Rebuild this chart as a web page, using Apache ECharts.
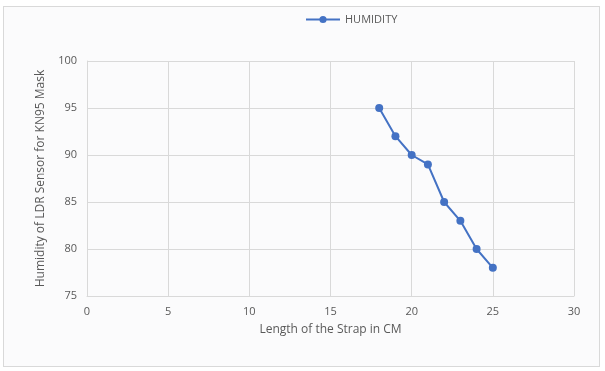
<!DOCTYPE html>
<html>
<head>
<meta charset="utf-8">
<script src="https://cdn.jsdelivr.net/npm/echarts@6/dist/echarts.min.js"></script>
<style>
  html, body { margin: 0; padding: 0; background: #ffffff; }
  #frame { position: absolute; left: 3px; top: 6px; width: 597px; height: 361px;
           border: 1px solid #d9d9d9; background: #fbfbfc; box-sizing: border-box; }
  #chart { position: absolute; left: 0; top: 0; width: 605px; height: 371px; }
</style>
</head>
<body>
<div id="frame"></div>
<div id="chart"></div>
<script>
// Strap length (cm) against measured humidity
const strapLength = [18, 19, 20, 21, 22, 23, 24, 25];
const humidity = [95, 92, 90, 89, 85, 83, 80, 78];
const seriesName = 'HUMIDITY';
const xTitle = 'Length of the Strap in CM';
const yTitle = 'Humidity of LDR Sensor for KN95 Mask';

const chart = echarts.init(document.getElementById('chart'), null, { renderer: 'canvas' });
const font = 'Open Sans, Noto Sans, sans-serif';
const textGray = '#595959';
const gridGray = '#d9d9d9';

chart.setOption({
  backgroundColor: 'transparent',
  animation: false,
  textStyle: { fontFamily: font },
  legend: {
    top: 9, left: 300,
    itemWidth: 34, itemHeight: 9, itemGap: 4,
    textStyle: { color: textGray, fontSize: 11, fontFamily: font },
    data: [seriesName]
  },
  grid: { left: 87, right: 31, top: 61, bottom: 75 },
  xAxis: {
    type: 'value', min: 0, max: 30, interval: 5,
    name: xTitle, nameLocation: 'middle', nameGap: 28,
    nameTextStyle: { color: textGray, fontSize: 12, fontFamily: font },
    axisLine: { lineStyle: { color: gridGray } },
    axisTick: { show: false },
    axisLabel: { color: textGray, fontSize: 11, margin: 10 },
    splitLine: { show: true, lineStyle: { color: gridGray } }
  },
  yAxis: {
    type: 'value', min: 75, max: 100, interval: 5,
    name: yTitle, nameLocation: 'middle', nameGap: 40,
    nameTextStyle: { color: textGray, fontSize: 12, fontFamily: font },
    axisLine: { show: true, lineStyle: { color: gridGray } },
    axisTick: { show: false },
    axisLabel: { color: textGray, fontSize: 11, margin: 10 },
    splitLine: { show: true, lineStyle: { color: gridGray } }
  },
  series: [{
    name: seriesName,
    type: 'line',
    data: strapLength.map((x, i) => [x, humidity[i]]),
    symbol: 'circle', symbolSize: 8,
    lineStyle: { color: '#4472c4', width: 2 },
    itemStyle: { color: '#4472c4' }
  }]
});
</script>
</body>
</html>
